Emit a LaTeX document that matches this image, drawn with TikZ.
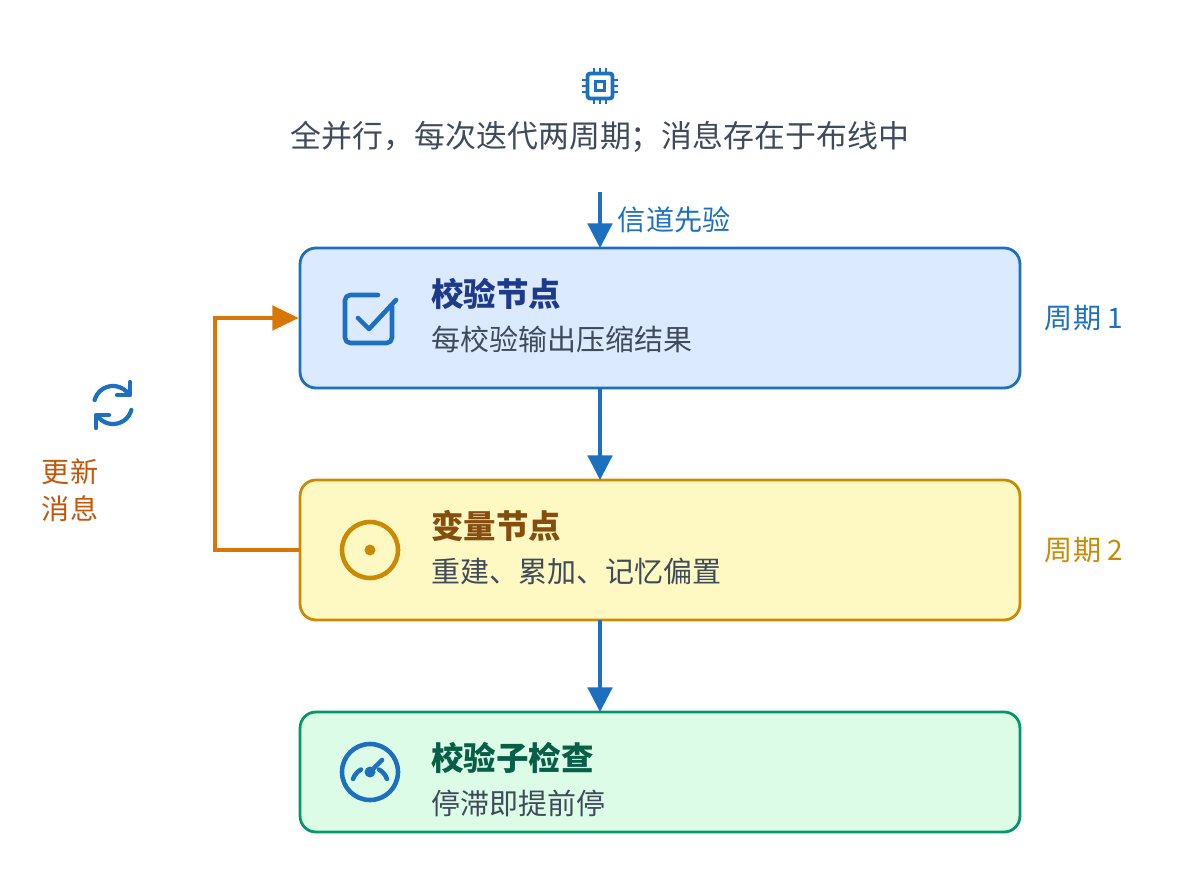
\documentclass[tikz,border=0pt]{standalone}
\usepackage{fontspec}
\setmainfont{Noto Sans CJK SC}
\usetikzlibrary{arrows.meta,positioning}
\definecolor{ink}{HTML}{3F4A5A}
\definecolor{cblue}{HTML}{1D6FC0}
\definecolor{cbluefill}{HTML}{DBEAFE}
\definecolor{cbluetxt}{HTML}{1E3A8A}
\definecolor{cyel}{HTML}{CA8A04}
\definecolor{cyelfill}{HTML}{FEF9C3}
\definecolor{cyeltxt}{HTML}{854D0E}
\definecolor{cgrn}{HTML}{059669}
\definecolor{cgrnfill}{HTML}{DCFCE7}
\definecolor{cgrntxt}{HTML}{065F46}
\definecolor{corange}{HTML}{D97706}
\definecolor{corangetxt}{HTML}{C2570C}
\begin{document}
\begin{tikzpicture}[x=0.02cm,y=-0.02cm]
	\tikzstyle{stage}=[draw,line width=1.6pt,rounded corners=9pt,minimum width=14.4cm,minimum height=2.8cm]
	\tikzstyle{head}=[anchor=west,font=\fontsize{18.5}{20}\selectfont\bfseries]
	\tikzstyle{sub}=[anchor=west,text=ink,font=\fontsize{16.5}{18}\selectfont]
	\tikzstyle{flow}=[-{Triangle[length=14pt,width=14pt]},line width=1.8pt,cblue]
	\tikzstyle{icon}=[line width=2.6pt,line cap=round,line join=round]
	\useasboundingbox (0,0) rectangle (1200,876);

	% chip icon and headline
	\node [draw=cblue,line width=2.2pt,rounded corners=1.5pt,minimum size=0.5cm] (chip) at (600,86) {};
	\node [draw=cblue,line width=1.6pt,minimum size=0.17cm,inner sep=0] (core) at (chip) {};
	\foreach \d in {-6,0,6} {
		\draw [cblue,line width=1.6pt] (600+\d,68) -- (600+\d,74) (600+\d,98) -- (600+\d,104)
			(582,86+\d) -- (588,86+\d) (612,86+\d) -- (618,86+\d);
	}
	\node [text=ink,font=\fontsize{17.6}{19}\selectfont] (headline) at (600,137) {全并行，每次迭代两周期；消息存在于布线中};

	% stages
	\node [stage,draw=cblue,fill=cbluefill] (check) at (660,318) {};
	\node [stage,draw=cyel,fill=cyelfill] (var) at (660,550) {};
	\node [stage,draw=cgrn,fill=cgrnfill,minimum height=2.4cm] (stop) at (660,772) {};

	\node [head,text=cbluetxt] (checkt) at (425,294) {校验节点};
	\node [sub] (checks) at (425,339) {每校验输出压缩结果};
	\node [head,text=cyeltxt] (vart) at (425,526) {变量节点};
	\node [sub] (vars) at (425,571) {重建、累加、记忆偏置};
	\node [head,text=cgrntxt] (stopt) at (425,758) {校验子检查};
	\node [sub] (stops) at (425,803) {停滞即提前停};

	\node [text=cblue,font=\fontsize{16}{18}\selectfont] (cyc1) at (1084,318) {周期 1};
	\node [text=cyel,font=\fontsize{16}{18}\selectfont] (cyc2) at (1084,550) {周期 2};

	% stage icons
	\draw [icon,cblue,rounded corners=3pt] (392,306) -- (392,343) -- (345,343) -- (345,295) -- (378,295);
	\draw [icon,cblue] (358,318) -- (369,329) -- (396,300);
	\draw [icon,cyel] (370,550) circle (28);
	\fill [cyel] (370,550) circle (5.5);
	\draw [icon,cblue] (370,772) circle (28);
	\draw [icon,cblue] (353,779) arc (200:240:18) (387,779) arc (-20:-60:18);
	\fill [cblue] (370,772) circle (5.5);
	\draw [icon,cblue] (370,772) -- (382,760);

	% refresh icon
	\draw [icon,cblue,line width=2.4pt] plot[domain=195:325,samples=20] ({113+19*cos(\x)},{405+19*sin(\x)});
	\draw [icon,cblue,line width=2.4pt] plot[domain=15:145,samples=20] ({113+19*cos(\x)},{405+19*sin(\x)});
	\draw [icon,cblue,line width=2.4pt] (130,382) -- (130,395) -- (117,395);
	\draw [icon,cblue,line width=2.4pt] (96,428) -- (96,415) -- (109,415);
	\node [text=corangetxt,font=\fontsize{16}{21}\selectfont,align=left] (upd) at (70,490) {更新\\消息};

	% connectors
	\coordinate (prior) at (600,192);
	\coordinate (checkin) at (600,248);
	\coordinate (checkout) at (600,387);
	\coordinate (varin) at (600,480);
	\coordinate (varout) at (600,620);
	\coordinate (stopin) at (600,712);
	\draw [flow] (prior) -- node[right=6pt,text=cblue,font=\fontsize{16}{18}\selectfont]{信道先验} (checkin);
	\draw [flow] (checkout) -- (varin);
	\draw [flow] (varout) -- (stopin);
	\draw [-{Triangle[length=15pt,width=14pt]},line width=1.8pt,corange] (var.west) -- (215,550) -- (215,318) -- (check.west);
\end{tikzpicture}
\end{document}
